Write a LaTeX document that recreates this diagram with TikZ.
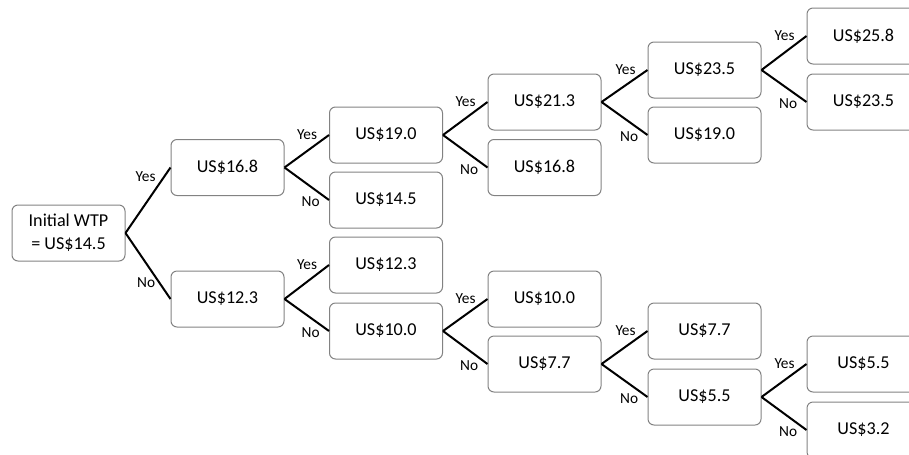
\documentclass[tikz,border=0pt]{standalone}
\usepackage{fontspec}
\setmainfont{Carlito}
\usepackage{xcolor}

\tikzset{
  wtpbox/.style={draw={rgb, 255:red, 130; green, 130; blue, 130 }, line width=0.75pt, rounded corners=4.5pt,
    minimum width=84.75pt, minimum height=42pt, inner sep=0.75pt, align=center,
    font=\fontsize{13.6}{17.5}\selectfont},
  branch/.style={line width=1.5pt},
  answer/.style={anchor=east, inner sep=0.75pt, font=\fontsize{11.5}{13}\selectfont},
  yesans/.style={answer, xshift=-7.5pt},
  noans/.style={answer, xshift=-5.5pt, yshift=-1.5pt},
}

\begin{document}
\begin{tikzpicture}[x=0.75pt,y=0.75pt,yscale=-1,xscale=1]
%set diagram size 909 x 454
\clip (0,0) rectangle (909,454);

%Shape: Rounded Rect - start
\node [wtpbox] (start) at (68.5,233) {Initial WTP\\= US\$14.5};
%Shape: Rounded Rect - first answer
\node [wtpbox] (y) at (227.5,167.5) {US\$16.8};
\node [wtpbox] (n) at (227.5,299) {US\$12.3};
%Shape: Rounded Rect - second answer
\node [wtpbox] (yy) at (386,135) {US\$19.0};
\node [wtpbox] (yn) at (386,200) {US\$14.5};
\node [wtpbox] (ny) at (386,265) {US\$12.3};
\node [wtpbox] (nn) at (386,331) {US\$10.0};
%Shape: Rounded Rect - third answer
\node [wtpbox] (yyy) at (544.5,102) {US\$21.3};
\node [wtpbox] (yyn) at (544.5,167.5) {US\$16.8};
\node [wtpbox] (nny) at (544.5,299) {US\$10.0};
\node [wtpbox] (nnn) at (544.5,364) {US\$7.7};
%Shape: Rounded Rect - fourth answer
\node [wtpbox] (yyyy) at (704.5,70) {US\$23.5};
\node [wtpbox] (yyyn) at (704.5,135) {US\$19.0};
\node [wtpbox] (nnny) at (704.5,331) {US\$7.7};
\node [wtpbox] (nnnn) at (704.5,397) {US\$5.5};
%Shape: Rounded Rect - fifth answer
\node [wtpbox] (yyyyy) at (863.5,36) {US\$25.8};
\node [wtpbox] (yyyyn) at (863.5,102) {US\$23.5};
\node [wtpbox] (nnnny) at (863.5,364) {US\$5.5};
\node [wtpbox] (nnnnn) at (863.5,430) {US\$3.2};

%Straight Lines - first split
\draw [branch] (start.east) -- (y.west) node [answer, xshift=-9.75pt, yshift=-7pt] {Yes};
\draw [branch] (start.east) -- (n.west) node [answer, xshift=-10pt, yshift=12.4pt] {No};
%Straight Lines - second split
\draw [branch] (y.east) -- (yy.west) node [yesans] {Yes};
\draw [branch] (y.east) -- (yn.west) node [noans] {No};
\draw [branch] (n.east) -- (ny.west) node [yesans] {Yes};
\draw [branch] (n.east) -- (nn.west) node [noans] {No};
%Straight Lines - third split
\draw [branch] (yy.east) -- (yyy.west) node [yesans] {Yes};
\draw [branch] (yy.east) -- (yyn.west) node [noans] {No};
\draw [branch] (nn.east) -- (nny.west) node [yesans] {Yes};
\draw [branch] (nn.east) -- (nnn.west) node [noans] {No};
%Straight Lines - fourth split
\draw [branch] (yyy.east) -- (yyyy.west) node [yesans] {Yes};
\draw [branch] (yyy.east) -- (yyyn.west) node [noans] {No};
\draw [branch] (nnn.east) -- (nnny.west) node [yesans] {Yes};
\draw [branch] (nnn.east) -- (nnnn.west) node [noans] {No};
%Straight Lines - fifth split
\draw [branch] (yyyy.east) -- (yyyyy.west) node [yesans] {Yes};
\draw [branch] (yyyy.east) -- (yyyyn.west) node [noans] {No};
\draw [branch] (nnnn.east) -- (nnnny.west) node [yesans] {Yes};
\draw [branch] (nnnn.east) -- (nnnnn.west) node [noans] {No};

\end{tikzpicture}
\end{document}
